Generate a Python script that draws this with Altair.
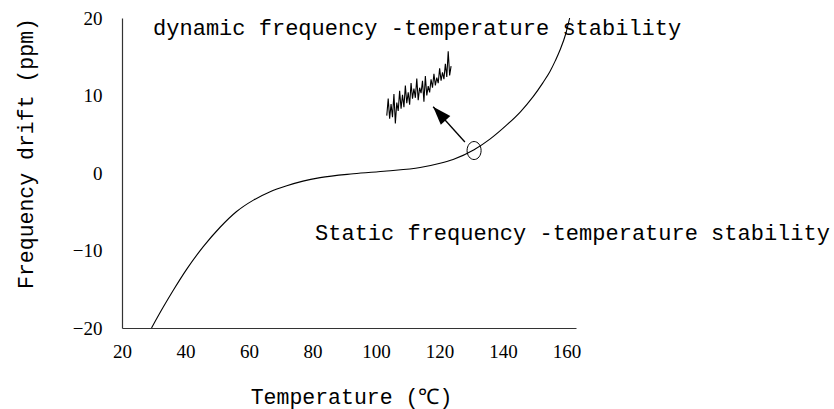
import altair as alt
import pandas as pd

# ---- data ----
curve_temp = [29.3, 33.0, 36.2, 40.4, 45.6, 50.9, 56.0, 61.4, 66.5, 71.9,
              77.0, 82.4, 92.9, 103.4, 113.9, 120.2, 124.3, 130.9, 136.0, 141.2,
              145.5, 149.5, 152.5, 154.8, 156.5, 158.0, 159.8, 161.0]
curve_drift = [-20.0, -17.3, -15.1, -12.4, -9.5, -7.0, -5.0, -3.5, -2.45, -1.65,
               -1.05, -0.6, -0.1, 0.25, 0.7, 1.25, 1.75, 3.0, 4.4, 6.2,
               7.9, 9.85, 11.6, 13.1, 14.5, 15.9, 18.0, 20.0]

dyn_temp = [103.4, 103.85, 104.3, 104.75, 105.2, 105.65, 106.1, 106.55, 107.0, 107.45,
            107.9, 108.35, 108.8, 109.25, 109.7, 110.15, 110.6, 111.05, 111.5, 111.95,
            112.4, 112.85, 113.3, 113.75, 114.2, 114.65, 115.1, 115.55, 116.0, 116.45,
            116.9, 117.35, 117.8, 118.25, 118.7, 119.15, 119.6, 120.05, 120.5, 120.95,
            121.4, 121.85, 122.3, 122.75, 123.2, 123.65]
dyn_drift = [7.4, 9.6, 7.0, 8.9, 7.2, 10.2, 6.4, 9.1, 8.0, 10.6,
             8.3, 10.1, 8.5, 11.3, 9.0, 10.4, 8.8, 11.6, 9.6, 10.9,
             9.7, 12.2, 9.4, 11.0, 10.3, 11.9, 9.2, 12.5, 10.0, 11.2,
             10.4, 12.1, 11.0, 12.8, 11.3, 12.3, 11.6, 13.5, 11.9, 13.0,
             12.1, 14.1, 12.4, 15.7, 12.6, 13.8]

x_ticks = [20, 40, 60, 80, 100, 120, 140, 160]
y_ticks = [-20, -10, 0, 10, 20]

arrow_tail = [128.0, 4.0]
arrow_tip = [118.0, 8.55]
marker_pos = [130.9, 2.9]

label_texts = ["dynamic frequency -temperature stability",
               "Static frequency -temperature stability"]
label_temp = [29.8, 80.8]
label_drift = [17.8, -8.65]

# ---- styling ----
MONO = "Liberation Mono"
SERIF = "Liberation Serif"
AX = "#333333"

x_scale = alt.Scale(domain=[20, 163], nice=False, zero=False)
y_scale = alt.Scale(domain=[-20, 20], nice=False, zero=False)

x_axis = alt.Axis(values=x_ticks, title="Temperature (℃)", grid=False, ticks=False,
                  domainColor=AX, domainWidth=1.2, labelFont=SERIF, labelFontSize=19,
                  labelColor="black", labelPadding=14, labelFlush=False,
                  titleFont=MONO, titleFontSize=21.5, titleFontWeight="normal",
                  titleColor="black", titleX=229, titleY=75, titleAlign="center",
                  titleBaseline="alphabetic")
y_axis = alt.Axis(values=y_ticks, title="Frequency drift (ppm)", grid=False, ticks=False,
                  domainColor=AX, domainWidth=1.2, labelFont=SERIF, labelFontSize=19,
                  labelColor="black", labelPadding=20, labelFlush=False,
                  titleFont=MONO, titleFontSize=21.5, titleFontWeight="normal",
                  titleColor="black", titleAngle=270, titleX=-90, titleY=135,
                  titleAlign="center", titleBaseline="alphabetic")


def X(f="T"):
    return alt.X(f"{f}:Q", scale=x_scale, axis=x_axis)


def Y(f="D"):
    return alt.Y(f"{f}:Q", scale=y_scale, axis=y_axis)


curve_df = pd.DataFrame({"T": curve_temp, "D": curve_drift})
dyn_df = pd.DataFrame({"T": dyn_temp, "D": dyn_drift})
arrow_df = pd.DataFrame({"T": [arrow_tail[0]], "D": [arrow_tail[1]],
                         "T2": [arrow_tip[0]], "D2": [arrow_tip[1]]})
tip_df = pd.DataFrame({"T": [arrow_tip[0]], "D": [arrow_tip[1]]})
marker_df = pd.DataFrame({"T": [marker_pos[0]], "D": [marker_pos[1]]})
label_df = pd.DataFrame({"T": label_temp, "D": label_drift, "txt": label_texts})

curve = alt.Chart(curve_df).mark_line(interpolate="monotone", color="black",
                                      strokeWidth=1.1).encode(x=X(), y=Y())
dyn = alt.Chart(dyn_df).mark_line(color="black", strokeWidth=1.1).encode(x=X(), y=Y())
arrow = alt.Chart(arrow_df).mark_rule(color="black", strokeWidth=1.3).encode(
    x=X(), y=Y(), x2="T2:Q", y2="D2:Q")
head = alt.Chart(tip_df).mark_point(
    shape="M0,0L-0.7,2L0.7,2Z", size=340, angle=317.6, filled=True,
    color="black", opacity=1, strokeWidth=0).encode(x=X(), y=Y())
ellipse = alt.Chart(marker_df).mark_point(
    shape="M0,-1A0.78,1,0,1,0,0,1A0.78,1,0,1,0,0,-1Z", size=324, filled=False,
    color="black", opacity=1, strokeWidth=1).encode(x=X(), y=Y())
labels = alt.Chart(label_df).mark_text(
    align="left", baseline="alphabetic", font=MONO, fontSize=22, color="black"
).encode(x=X(), y=Y(), text="txt:N")

chart = alt.layer(curve, dyn, arrow, head, ellipse, labels).properties(
    width=454, height=310,
    padding={"left": 122, "top": 18, "right": 258, "bottom": 81},
    autosize=alt.AutoSizeParams(type="none"),
    background="white",
).configure_view(stroke=None)

chart.save("out.html", embed_options={"renderer": "svg", "actions": False})
